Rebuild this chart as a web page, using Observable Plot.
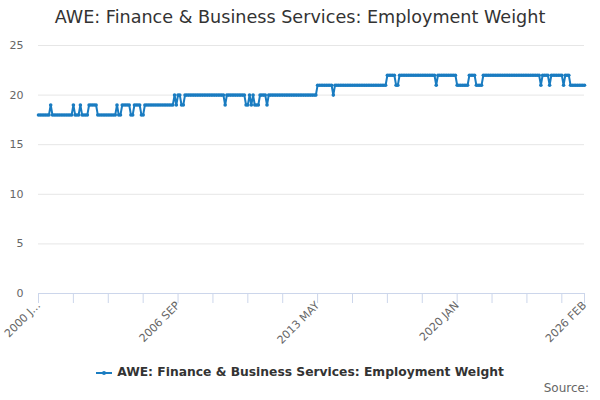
<!DOCTYPE html>
<html>
<head>
<meta charset="utf-8">
<script src="https://cdn.jsdelivr.net/npm/d3@7"></script>
<script src="https://cdn.jsdelivr.net/npm/@observablehq/plot@0.6"></script>
<style>
  html, body { margin: 0; padding: 0; background: #fff; }
  #wrap { position: relative; width: 600px; height: 400px; font-family: "DejaVu Sans", sans-serif; overflow: hidden; }
  #title { position: absolute; left: 0; top: 7px; width: 600px; text-align: center; font-size: 17.6px; color: #333; }
  #chart { position: absolute; left: 0; top: 0; }
  #legend { position: absolute; left: 0; top: 365px; width: 600px; text-align: center; font-size: 12.3px; font-weight: bold; color: #333; }
  #legend svg { vertical-align: middle; margin-right: 5px; }
  #source { position: absolute; right: 11px; top: 381px; font-size: 12px; color: #666; }
</style>
</head>
<body>
<div id="wrap">
  <div id="chart"></div>
  <div id="title"></div>
  <div id="legend"></div>
  <div id="source">Source:</div>
</div>
<script>
const chartTitle = "AWE: Finance & Business Services: Employment Weight";
const seriesName = "AWE: Finance & Business Services: Employment Weight";
const seriesColor = "#1a7cc1";

// Monthly values, 2000 JAN .. 2026 FEB
const values = [
  // 2000
  18,18,18,18,18,18,18,19,18,18,18,18,
  // 2001
  18,18,18,18,18,18,18,18,19,18,18,18,
  // 2002
  19,18,18,18,18,19,19,19,19,19,18,18,
  // 2003
  18,18,18,18,18,18,18,18,18,19,18,18,
  // 2004
  19,19,19,19,19,18,18,19,19,19,19,18,
  // 2005
  18,19,19,19,19,19,19,19,19,19,19,19,
  // 2006
  19,19,19,19,19,19,20,19,20,20,19,19,
  // 2007
  20,20,20,20,20,20,20,20,20,20,20,20,
  // 2008
  20,20,20,20,20,20,20,20,20,20,20,19,
  // 2009
  20,20,20,20,20,20,20,20,20,20,20,19,
  // 2010
  19,20,19,20,19,19,19,20,20,20,20,19,
  // 2011
  20,20,20,20,20,20,20,20,20,20,20,20,
  // 2012
  20,20,20,20,20,20,20,20,20,20,20,20,
  // 2013
  20,20,20,20,21,21,21,21,21,21,21,21,
  // 2014
  21,20,21,21,21,21,21,21,21,21,21,21,
  // 2015
  21,21,21,21,21,21,21,21,21,21,21,21,
  // 2016
  21,21,21,21,21,21,21,21,22,22,22,22,
  // 2017
  22,21,21,22,22,22,22,22,22,22,22,22,
  // 2018
  22,22,22,22,22,22,22,22,22,22,22,22,
  // 2019
  21,22,22,22,22,22,22,22,22,22,22,22,
  // 2020
  21,21,21,21,21,21,21,22,22,22,22,21,
  // 2021
  21,21,21,22,22,22,22,22,22,22,22,22,
  // 2022
  22,22,22,22,22,22,22,22,22,22,22,22,
  // 2023
  22,22,22,22,22,22,22,22,22,22,22,22,
  // 2024
  21,22,22,22,22,21,22,22,22,22,22,22,
  // 2025
  22,21,22,22,22,21,21,21,21,21,21,21,
  // 2026
  21,21
];

const tickIndex = [0, 80, 160, 240, 313];
const tickLabels = ["2000 J...", "2006 SEP", "2013 MAY", "2020 JAN", "2026 FEB"];
const minorTicks = [0,20,40,60,80,100,120,140,160,180,200,220,240,260,280,300,313];
const yTicks = [0, 5, 10, 15, 20, 25];

const data = values.map((v, i) => ({i, v}));
const labelMap = new Map(tickIndex.map((t, k) => [t, tickLabels[k]]));

const plot = Plot.plot({
  width: 600,
  height: 400,
  marginTop: 45,
  marginBottom: 107,
  marginLeft: 38,
  marginRight: 16,
  style: { fontFamily: "DejaVu Sans, sans-serif", fontSize: "11px", color: "#666", background: "transparent" },
  x: { domain: [0, values.length - 1] },
  y: { domain: [0, 25] },
  marks: [
    Plot.gridY(yTicks.filter(d => d > 0), { stroke: "#e6e6e6", strokeOpacity: 1 }),
    Plot.axisY(yTicks, { tickSize: 0, tickPadding: 15, fontSize: 11, fill: "#666", label: null }),
    Plot.axisX(minorTicks, { tickSize: 10, stroke: "#ccd6eb", strokeOpacity: 1, tickFormat: () => "", label: null }),
    Plot.axisX(tickIndex, { tickSize: 0, tickPadding: 10, tickRotate: -45, tickFormat: d => labelMap.get(d), fontSize: 11, fill: "#666", label: null }),
    Plot.ruleY([0], { stroke: "#ccd6eb", strokeWidth: 1 }),
    Plot.line(data, { x: "i", y: "v", stroke: seriesColor, strokeWidth: 2 }),
    Plot.dot(data, { x: "i", y: "v", fill: seriesColor, r: 1.8, stroke: null })
  ]
});
document.getElementById("chart").appendChild(plot);
document.getElementById("title").textContent = chartTitle;

const legend = document.getElementById("legend");
legend.innerHTML = `<svg width="16" height="10"><line x1="0" y1="5" x2="16" y2="5" stroke="${seriesColor}" stroke-width="2"/><circle cx="8" cy="5" r="2" fill="${seriesColor}"/></svg>`;
legend.appendChild(document.createTextNode(seriesName));
</script>
</body>
</html>
